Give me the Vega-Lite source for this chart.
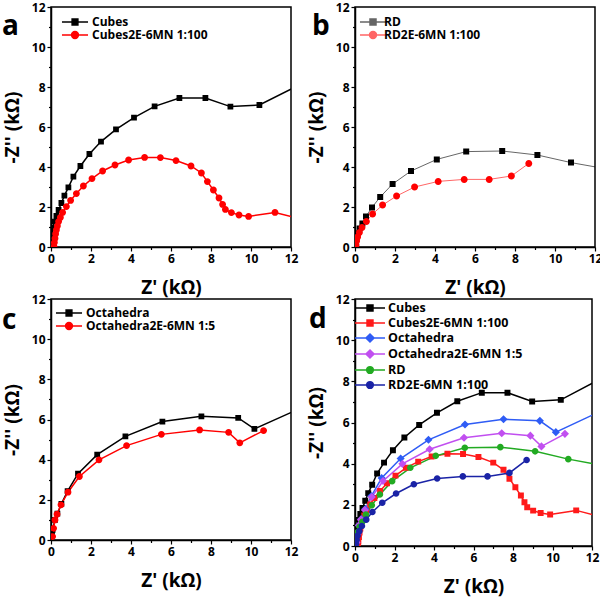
{
  "$schema": "https://vega.github.io/schema/vega-lite/v6.json",
  "padding": {"left": 1, "top": 0, "right": 0, "bottom": 0},
  "autosize": {"type": "pad"},
  "background": "white",
  "config": {
    "font": "Open Sans",
    "view": {"stroke": "black", "strokeWidth": 1.5},
    "axis": {
      "grid": false, "domainColor": "black", "domainWidth": 1.5,
      "tickColor": "black", "tickWidth": 1.2, "labelFont": "Open Sans", "labelFontWeight": "bold",
      "labelFontSize": 12, "labelColor": "black", "labelPadding": 2, "labelOverlap": false,
      "titleFont": "Open Sans", "titleFontWeight": "bold", "titleFontSize": 19, "titleColor": "black"
    },
    "axisX": {"labelFlush": false, "titlePadding": 14},
    "axisY": {"titlePadding": 9},
    "legend": {"labelFont": "Open Sans", "labelFontWeight": "bold", "labelFontSize": 12, "labelColor": "black"},
    "title": {"font": "Open Sans", "fontWeight": "bold", "fontSize": 28, "color": "black", "anchor": "start", "frame": "group", "orient": "top", "baseline": "alphabetic", "offset": 0}
  },
  "resolve": {
    "scale": {"color": "independent", "shape": "independent"},
    "legend": {"color": "independent", "shape": "independent"}
  },
  "datasets": {
    "nyq": [
      {"s": "Cubes", "x": 0.02, "y": 0.3}, {"s": "Cubes", "x": 0.05, "y": 0.62}, {"s": "Cubes", "x": 0.09, "y": 0.95},
      {"s": "Cubes", "x": 0.17, "y": 1.27}, {"s": "Cubes", "x": 0.27, "y": 1.55}, {"s": "Cubes", "x": 0.38, "y": 1.85},
      {"s": "Cubes", "x": 0.52, "y": 2.2}, {"s": "Cubes", "x": 0.67, "y": 2.57}, {"s": "Cubes", "x": 0.87, "y": 2.98},
      {"s": "Cubes", "x": 1.12, "y": 3.52}, {"s": "Cubes", "x": 1.47, "y": 4.05}, {"s": "Cubes", "x": 1.92, "y": 4.65},
      {"s": "Cubes", "x": 2.5, "y": 5.27}, {"s": "Cubes", "x": 3.25, "y": 5.88}, {"s": "Cubes", "x": 4.15, "y": 6.47},
      {"s": "Cubes", "x": 5.18, "y": 7.03}, {"s": "Cubes", "x": 6.42, "y": 7.45}, {"s": "Cubes", "x": 7.72, "y": 7.45},
      {"s": "Cubes", "x": 8.97, "y": 7.02}, {"s": "Cubes", "x": 10.42, "y": 7.1}, {"s": "Cubes", "x": 12.9, "y": 8.35},

      {"s": "Cubes2E-6MN 1:100", "x": 0.15, "y": 0.02}, {"s": "Cubes2E-6MN 1:100", "x": 0.17, "y": 0.22},
      {"s": "Cubes2E-6MN 1:100", "x": 0.2, "y": 0.43}, {"s": "Cubes2E-6MN 1:100", "x": 0.23, "y": 0.65},
      {"s": "Cubes2E-6MN 1:100", "x": 0.27, "y": 0.85}, {"s": "Cubes2E-6MN 1:100", "x": 0.32, "y": 1.05},
      {"s": "Cubes2E-6MN 1:100", "x": 0.38, "y": 1.27}, {"s": "Cubes2E-6MN 1:100", "x": 0.47, "y": 1.48},
      {"s": "Cubes2E-6MN 1:100", "x": 0.58, "y": 1.73}, {"s": "Cubes2E-6MN 1:100", "x": 0.77, "y": 2.02},
      {"s": "Cubes2E-6MN 1:100", "x": 0.98, "y": 2.33}, {"s": "Cubes2E-6MN 1:100", "x": 1.27, "y": 2.67},
      {"s": "Cubes2E-6MN 1:100", "x": 1.62, "y": 3.05}, {"s": "Cubes2E-6MN 1:100", "x": 2.05, "y": 3.42},
      {"s": "Cubes2E-6MN 1:100", "x": 2.58, "y": 3.8}, {"s": "Cubes2E-6MN 1:100", "x": 3.2, "y": 4.1},
      {"s": "Cubes2E-6MN 1:100", "x": 3.88, "y": 4.35}, {"s": "Cubes2E-6MN 1:100", "x": 4.68, "y": 4.48},
      {"s": "Cubes2E-6MN 1:100", "x": 5.47, "y": 4.47}, {"s": "Cubes2E-6MN 1:100", "x": 6.25, "y": 4.32},
      {"s": "Cubes2E-6MN 1:100", "x": 7.0, "y": 4.05}, {"s": "Cubes2E-6MN 1:100", "x": 7.52, "y": 3.7},
      {"s": "Cubes2E-6MN 1:100", "x": 7.82, "y": 3.27}, {"s": "Cubes2E-6MN 1:100", "x": 8.12, "y": 2.85},
      {"s": "Cubes2E-6MN 1:100", "x": 8.4, "y": 2.45}, {"s": "Cubes2E-6MN 1:100", "x": 8.58, "y": 2.13},
      {"s": "Cubes2E-6MN 1:100", "x": 8.72, "y": 1.88}, {"s": "Cubes2E-6MN 1:100", "x": 9.02, "y": 1.72},
      {"s": "Cubes2E-6MN 1:100", "x": 9.4, "y": 1.6}, {"s": "Cubes2E-6MN 1:100", "x": 9.88, "y": 1.53},
      {"s": "Cubes2E-6MN 1:100", "x": 11.2, "y": 1.73}, {"s": "Cubes2E-6MN 1:100", "x": 12.7, "y": 1.35},

      {"s": "Octahedra", "x": 0.05, "y": 0.25}, {"s": "Octahedra", "x": 0.08, "y": 0.5}, {"s": "Octahedra", "x": 0.2, "y": 1.0},
      {"s": "Octahedra", "x": 0.32, "y": 1.31}, {"s": "Octahedra", "x": 0.52, "y": 1.8}, {"s": "Octahedra", "x": 0.83, "y": 2.43},
      {"s": "Octahedra", "x": 1.35, "y": 3.3}, {"s": "Octahedra", "x": 2.31, "y": 4.25}, {"s": "Octahedra", "x": 3.72, "y": 5.16},
      {"s": "Octahedra", "x": 5.57, "y": 5.9}, {"s": "Octahedra", "x": 7.52, "y": 6.16}, {"s": "Octahedra", "x": 9.36, "y": 6.08},
      {"s": "Octahedra", "x": 10.17, "y": 5.53}, {"s": "Octahedra", "x": 12.6, "y": 6.62},

      {"s": "Octahedra2E-6MN 1:5", "x": 0.08, "y": 0.17}, {"s": "Octahedra2E-6MN 1:5", "x": 0.13, "y": 0.58},
      {"s": "Octahedra2E-6MN 1:5", "x": 0.2, "y": 1.0}, {"s": "Octahedra2E-6MN 1:5", "x": 0.3, "y": 1.28},
      {"s": "Octahedra2E-6MN 1:5", "x": 0.5, "y": 1.75}, {"s": "Octahedra2E-6MN 1:5", "x": 0.85, "y": 2.38},
      {"s": "Octahedra2E-6MN 1:5", "x": 1.42, "y": 3.16}, {"s": "Octahedra2E-6MN 1:5", "x": 2.4, "y": 3.99},
      {"s": "Octahedra2E-6MN 1:5", "x": 3.78, "y": 4.7}, {"s": "Octahedra2E-6MN 1:5", "x": 5.52, "y": 5.26},
      {"s": "Octahedra2E-6MN 1:5", "x": 7.43, "y": 5.48}, {"s": "Octahedra2E-6MN 1:5", "x": 8.88, "y": 5.36},
      {"s": "Octahedra2E-6MN 1:5", "x": 9.44, "y": 4.84}, {"s": "Octahedra2E-6MN 1:5", "x": 10.63, "y": 5.45},

      {"s": "RD", "x": 0.02, "y": 0.08}, {"s": "RD", "x": 0.03, "y": 0.25}, {"s": "RD", "x": 0.08, "y": 0.47},
      {"s": "RD", "x": 0.13, "y": 0.67}, {"s": "RD", "x": 0.23, "y": 0.93}, {"s": "RD", "x": 0.37, "y": 1.18},
      {"s": "RD", "x": 0.55, "y": 1.53}, {"s": "RD", "x": 0.85, "y": 1.98}, {"s": "RD", "x": 1.26, "y": 2.5},
      {"s": "RD", "x": 1.88, "y": 3.15}, {"s": "RD", "x": 2.8, "y": 3.8}, {"s": "RD", "x": 4.09, "y": 4.38},
      {"s": "RD", "x": 5.56, "y": 4.77}, {"s": "RD", "x": 7.36, "y": 4.8}, {"s": "RD", "x": 9.12, "y": 4.6},
      {"s": "RD", "x": 10.8, "y": 4.22}, {"s": "RD", "x": 12.6, "y": 3.9},

      {"s": "RD2E-6MN 1:100", "x": 0.05, "y": 0.1}, {"s": "RD2E-6MN 1:100", "x": 0.08, "y": 0.3},
      {"s": "RD2E-6MN 1:100", "x": 0.13, "y": 0.5}, {"s": "RD2E-6MN 1:100", "x": 0.22, "y": 0.72},
      {"s": "RD2E-6MN 1:100", "x": 0.35, "y": 0.97}, {"s": "RD2E-6MN 1:100", "x": 0.57, "y": 1.28},
      {"s": "RD2E-6MN 1:100", "x": 0.88, "y": 1.65}, {"s": "RD2E-6MN 1:100", "x": 1.38, "y": 2.1},
      {"s": "RD2E-6MN 1:100", "x": 2.08, "y": 2.55}, {"s": "RD2E-6MN 1:100", "x": 2.98, "y": 3.0},
      {"s": "RD2E-6MN 1:100", "x": 4.16, "y": 3.28}, {"s": "RD2E-6MN 1:100", "x": 5.46, "y": 3.38},
      {"s": "RD2E-6MN 1:100", "x": 6.71, "y": 3.38}, {"s": "RD2E-6MN 1:100", "x": 7.82, "y": 3.55},
      {"s": "RD2E-6MN 1:100", "x": 8.69, "y": 4.18}
    ]
  },
  "data": {"name": "nyq"},
  "columns": 2,
  "spacing": {"row": 52, "column": 64},
  "bounds": "flush",
  "concat": [
    {
      "width": 240, "height": 240,
      "title": {"text": "a", "dx": -49, "dy": 44},
      "transform": [{"filter": {"field": "s", "oneOf": ["Cubes", "Cubes2E-6MN 1:100"]}}],
      "encoding": {
        "x": {"field": "x", "type": "quantitative", "scale": {"domain": [0, 12], "nice": false, "zero": false},
              "axis": {"title": "Z' (kΩ)", "values": [0,1,2,3,4,5,6,7,8,9,10,11,12], "labelExpr": "datum.value % 2 ? '' : datum.label",
                       "tickSize": {"condition": {"test": "datum.value % 2", "value": 2.5}, "value": 4}}},
        "y": {"field": "y", "type": "quantitative", "scale": {"domain": [0, 12], "nice": false, "zero": false},
              "axis": {"title": "-Z'' (kΩ)", "values": [0,1,2,3,4,5,6,7,8,9,10,11,12], "labelExpr": "datum.value % 2 ? '' : datum.label",
                       "tickSize": {"condition": {"test": "datum.value % 2", "value": 2.5}, "value": 4}}},
        "color": {"field": "s", "type": "nominal", "scale": {"domain": ["Cubes", "Cubes2E-6MN 1:100"], "range": ["#000000", "#ff0000"]},
                  "legend": {"title": null, "orient": "none", "legendX": 17, "legendY": 8, "padding": 0, "symbolSize": 144, "rowPadding": 0,
                             "encode": {"labels": {"update": {"dx": {"value": 6}}},
                                        "symbols": {"update": {
                               "fill": [{"test": "datum.value === 'Cubes'", "value": "#000000"}, {"value": "#ff0000"}],
                               "stroke": [{"test": "datum.value === 'Cubes'", "value": "#000000"}, {"value": "#ff0000"}],
                               "strokeWidth": {"value": 1.5}, "opacity": {"value": 1}, "fillOpacity": {"value": 1}, "strokeOpacity": {"value": 1}}}}}}
      },
      "layer": [
        {"mark": {"type": "line", "clip": true, "strokeWidth": 1.5}},
        {"mark": {"type": "point", "filled": true, "clip": true, "size": 144, "opacity": 1, "strokeWidth": 0},
         "encoding": {
           "shape": {"field": "s", "type": "nominal", "scale": {"domain": ["Cubes", "Cubes2E-6MN 1:100"],
                     "range": ["M-2.17,0H2.17M-0.48,-0.48H0.48V0.48H-0.48Z", "M-2.17,0H2.17M0.57,0A0.57,0.57,0,1,1,-0.57,0A0.57,0.57,0,1,1,0.57,0Z"]},
                     "legend": {"title": null, "orient": "none", "legendX": 17, "legendY": 8, "padding": 0, "symbolSize": 144, "rowPadding": 0}}
         }}
      ]
    },
    {
      "width": 240, "height": 240,
      "title": {"text": "b", "dx": -43, "dy": 44},
      "transform": [{"filter": {"field": "s", "oneOf": ["RD", "RD2E-6MN 1:100"]}}],
      "encoding": {
        "x": {"field": "x", "type": "quantitative", "scale": {"domain": [0, 12], "nice": false, "zero": false},
              "axis": {"title": "Z' (kΩ)", "values": [0,1,2,3,4,5,6,7,8,9,10,11,12], "labelExpr": "datum.value % 2 ? '' : datum.label",
                       "tickSize": {"condition": {"test": "datum.value % 2", "value": 2.5}, "value": 4}}},
        "y": {"field": "y", "type": "quantitative", "scale": {"domain": [0, 12], "nice": false, "zero": false},
              "axis": {"title": "-Z'' (kΩ)", "values": [0,1,2,3,4,5,6,7,8,9,10,11,12], "labelExpr": "datum.value % 2 ? '' : datum.label",
                       "tickSize": {"condition": {"test": "datum.value % 2", "value": 2.5}, "value": 4}}},
        "color": {"field": "s", "type": "nominal", "scale": {"domain": ["RD", "RD2E-6MN 1:100"], "range": ["#000000", "#ff0000"]},
                  "legend": {"title": null, "orient": "none", "legendX": 11, "legendY": 8, "padding": 0, "symbolSize": 144, "rowPadding": 0,
                             "encode": {"labels": {"update": {"dx": {"value": 6}}},
                                        "symbols": {"update": {
                               "fill": [{"test": "datum.value === 'RD'", "value": "#000000"}, {"value": "#ff0000"}],
                               "stroke": [{"test": "datum.value === 'RD'", "value": "#777777"}, {"value": "#ff7070"}],
                               "strokeWidth": {"value": 1}, "opacity": {"value": 1}, "fillOpacity": {"value": 1}, "strokeOpacity": {"value": 1}}}}}}
      },
      "layer": [
        {"mark": {"type": "line", "clip": true, "strokeWidth": 1, "opacity": 0.6}},
        {"mark": {"type": "point", "filled": true, "clip": true, "size": 144, "opacity": 1, "strokeWidth": 0},
         "encoding": {
           "shape": {"field": "s", "type": "nominal", "scale": {"domain": ["RD", "RD2E-6MN 1:100"],
                     "range": ["M-2.17,0H2.17M-0.5,-0.5H0.5V0.5H-0.5Z", "M-2.17,0H2.17M0.58,0A0.58,0.58,0,1,1,-0.58,0A0.58,0.58,0,1,1,0.58,0Z"]},
                     "legend": {"title": null, "orient": "none", "legendX": 11, "legendY": 8, "padding": 0, "symbolSize": 144, "rowPadding": 0}}
         }}
      ]
    },
    {
      "width": 240, "height": 241,
      "title": {"text": "c", "dx": -49, "dy": 46},
      "transform": [{"filter": {"field": "s", "oneOf": ["Octahedra", "Octahedra2E-6MN 1:5"]}}],
      "encoding": {
        "x": {"field": "x", "type": "quantitative", "scale": {"domain": [0, 12], "nice": false, "zero": false},
              "axis": {"title": "Z' (kΩ)", "values": [0,1,2,3,4,5,6,7,8,9,10,11,12], "labelExpr": "datum.value % 2 ? '' : datum.label",
                       "tickSize": {"condition": {"test": "datum.value % 2", "value": 2.5}, "value": 4}}},
        "y": {"field": "y", "type": "quantitative", "scale": {"domain": [0, 12], "nice": false, "zero": false},
              "axis": {"title": "-Z'' (kΩ)", "values": [0,1,2,3,4,5,6,7,8,9,10,11,12], "labelExpr": "datum.value % 2 ? '' : datum.label",
                       "tickSize": {"condition": {"test": "datum.value % 2", "value": 2.5}, "value": 4}}},
        "color": {"field": "s", "type": "nominal", "scale": {"domain": ["Octahedra", "Octahedra2E-6MN 1:5"], "range": ["#000000", "#ff0000"]},
                  "legend": {"title": null, "orient": "none", "legendX": 11, "legendY": 7, "padding": 0, "symbolSize": 144, "rowPadding": 0,
                             "encode": {"labels": {"update": {"dx": {"value": 6}}},
                                        "symbols": {"update": {
                               "fill": [{"test": "datum.value === 'Octahedra'", "value": "#000000"}, {"value": "#ff0000"}],
                               "stroke": [{"test": "datum.value === 'Octahedra'", "value": "#000000"}, {"value": "#ff0000"}],
                               "strokeWidth": {"value": 1.5}, "opacity": {"value": 1}, "fillOpacity": {"value": 1}, "strokeOpacity": {"value": 1}}}}}}
      },
      "layer": [
        {"mark": {"type": "line", "clip": true, "strokeWidth": 1.5}},
        {"mark": {"type": "point", "filled": true, "clip": true, "size": 144, "opacity": 1, "strokeWidth": 0},
         "encoding": {
           "shape": {"field": "s", "type": "nominal", "scale": {"domain": ["Octahedra", "Octahedra2E-6MN 1:5"],
                     "range": ["M-2.17,0H2.17M-0.48,-0.48H0.48V0.48H-0.48Z", "M-2.17,0H2.17M0.57,0A0.57,0.57,0,1,1,-0.57,0A0.57,0.57,0,1,1,0.57,0Z"]},
                     "legend": {"title": null, "orient": "none", "legendX": 11, "legendY": 7, "padding": 0, "symbolSize": 144, "rowPadding": 0}}
         }}
      ]
    },
    {
      "width": 237, "height": 247,
      "title": {"text": "d", "dx": -46, "dy": 45},
      "encoding": {
        "x": {"field": "x", "type": "quantitative", "scale": {"domain": [0, 12], "nice": false, "zero": false},
              "axis": {"title": "Z' (kΩ)", "values": [0,1,2,3,4,5,6,7,8,9,10,11,12], "labelExpr": "datum.value % 2 ? '' : datum.label",
                       "tickSize": {"condition": {"test": "datum.value % 2", "value": 2.5}, "value": 4}}},
        "y": {"field": "y", "type": "quantitative", "scale": {"domain": [0, 12], "nice": false, "zero": false},
              "axis": {"title": "-Z'' (kΩ)", "values": [0,1,2,3,4,5,6,7,8,9,10,11,12], "labelExpr": "datum.value % 2 ? '' : datum.label",
                       "tickSize": {"condition": {"test": "datum.value % 2", "value": 2.5}, "value": 4}}},
        "color": {"field": "s", "type": "nominal",
                  "scale": {"domain": ["Cubes", "Cubes2E-6MN 1:100", "Octahedra", "Octahedra2E-6MN 1:5", "RD", "RD2E-6MN 1:100"],
                            "range": ["#000000", "#ff1a1a", "#2f5cf5", "#c14ff0", "#22aa22", "#1a23a6"]},
                  "legend": {"title": null, "orient": "none", "legendX": 7, "legendY": 1, "padding": 0, "symbolSize": 210, "rowPadding": 0, "labelFontSize": 12.5,
                             "encode": {"labels": {"update": {"dx": {"value": 6}}},
                                        "symbols": {"update": {
                               "fill": [
                                 {"test": "datum.value === 'Cubes'", "value": "#000000"},
                                 {"test": "datum.value === 'Cubes2E-6MN 1:100'", "value": "#ff1a1a"},
                                 {"test": "datum.value === 'Octahedra'", "value": "#2f5cf5"},
                                 {"test": "datum.value === 'Octahedra2E-6MN 1:5'", "value": "#c14ff0"},
                                 {"test": "datum.value === 'RD'", "value": "#22aa22"},
                                 {"value": "#1a23a6"}],
                               "stroke": [
                                 {"test": "datum.value === 'Cubes'", "value": "#000000"},
                                 {"test": "datum.value === 'Cubes2E-6MN 1:100'", "value": "#ff1a1a"},
                                 {"test": "datum.value === 'Octahedra'", "value": "#2f5cf5"},
                                 {"test": "datum.value === 'Octahedra2E-6MN 1:5'", "value": "#c14ff0"},
                                 {"test": "datum.value === 'RD'", "value": "#22aa22"},
                                 {"value": "#1a23a6"}],
                               "strokeWidth": {"value": 1.5}, "opacity": {"value": 1}, "fillOpacity": {"value": 1}, "strokeOpacity": {"value": 1}}}}}}
      },
      "layer": [
        {"mark": {"type": "line", "clip": true, "strokeWidth": 1.5}},
        {"mark": {"type": "point", "filled": true, "clip": true, "size": 210, "opacity": 1, "strokeWidth": 0},
         "encoding": {
           "shape": {"field": "s", "type": "nominal",
                     "scale": {"domain": ["Cubes", "Cubes2E-6MN 1:100", "Octahedra", "Octahedra2E-6MN 1:5", "RD", "RD2E-6MN 1:100"],
                               "range": ["M-2.07,0H2.07M-0.41,-0.41H0.41V0.41H-0.41Z", "M-2.07,0H2.07M-0.41,-0.41H0.41V0.41H-0.41Z",
                                         "M-2.07,0H2.07M0,-0.56L0.56,0L0,0.56L-0.56,0Z", "M-2.07,0H2.07M0,-0.56L0.56,0L0,0.56L-0.56,0Z",
                                         "M-2.07,0H2.07M0.46,0A0.46,0.46,0,1,1,-0.46,0A0.46,0.46,0,1,1,0.46,0Z", "M-2.07,0H2.07M0.46,0A0.46,0.46,0,1,1,-0.46,0A0.46,0.46,0,1,1,0.46,0Z"]},
                     "legend": {"title": null, "orient": "none", "legendX": 7, "legendY": 1, "padding": 0, "symbolSize": 210, "rowPadding": 0, "labelFontSize": 12.5}}
         }}
      ]
    }
  ]
}
